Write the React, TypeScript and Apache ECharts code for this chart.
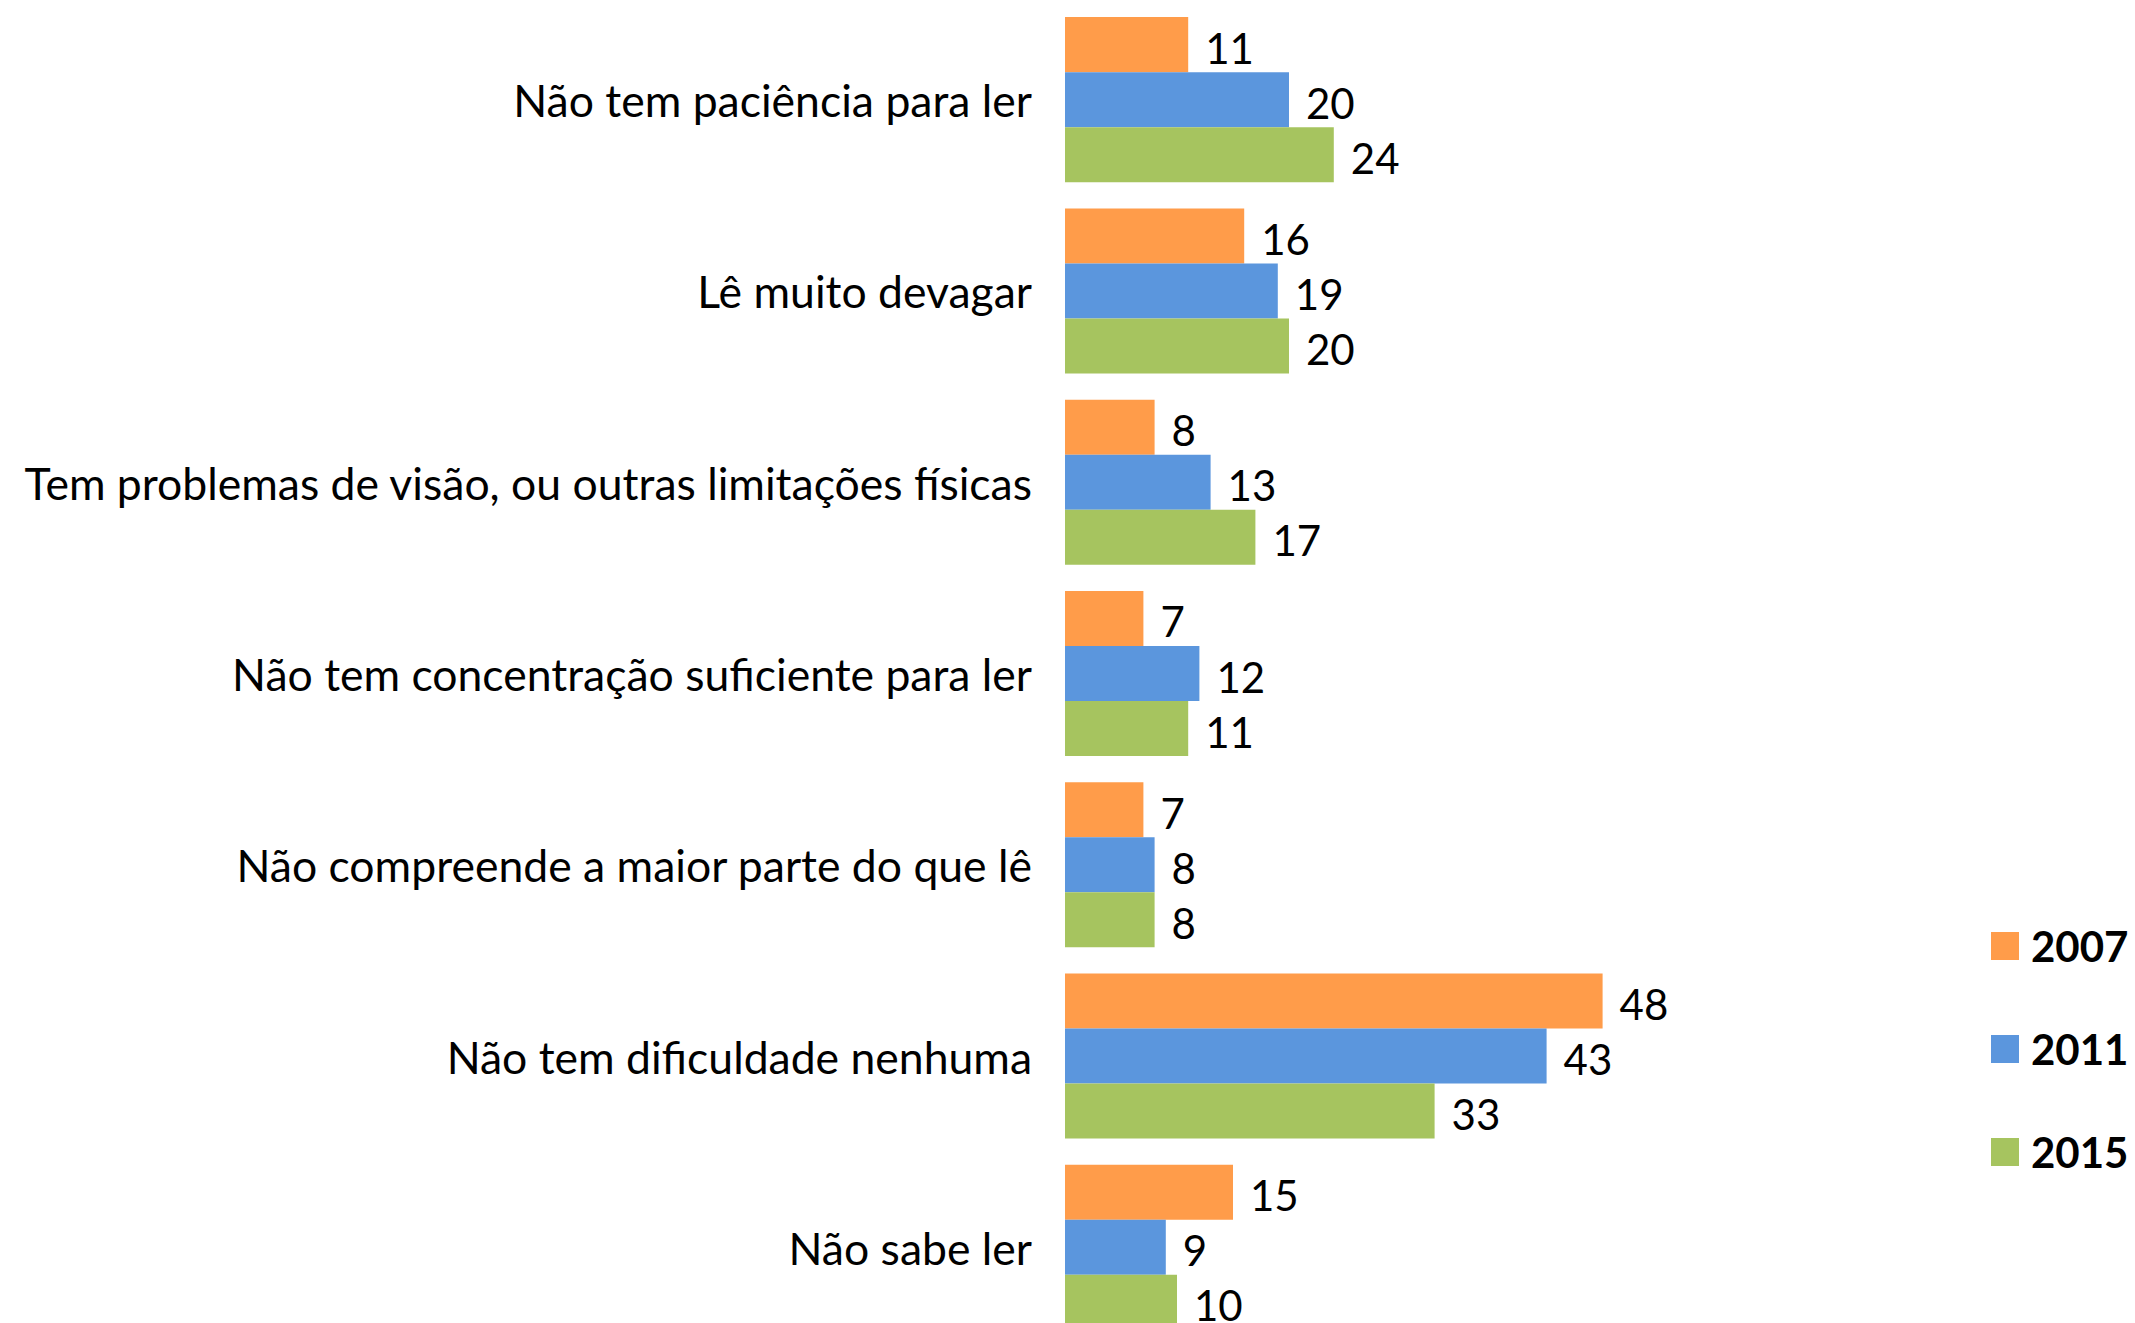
import React, { useEffect, useRef } from "react";
import * as echarts from "echarts";

const categories = [
  "Não tem paciência para ler",
  "Lê muito devagar",
  "Tem problemas de visão, ou outras limitações físicas",
  "Não tem concentração suficiente para ler",
  "Não compreende a maior parte do que lê",
  "Não tem dificuldade nenhuma",
  "Não sabe ler",
];
const years = ["2007", "2011", "2015"];
const values2007 = [11, 16, 8, 7, 7, 48, 15];
const values2011 = [20, 19, 13, 12, 8, 43, 9];
const values2015 = [24, 20, 17, 11, 8, 33, 10];
const colors = ["#FF9C4A", "#5B96DD", "#A6C45F"];

export default function App() {
  const ref = useRef<HTMLDivElement>(null);
  useEffect(() => {
    document.body.style.margin = "0";
    const chart = echarts.init(ref.current!, null, { renderer: "svg" });
    const seriesValues = [values2007, values2011, values2015];
    chart.setOption({
      animation: false,
      backgroundColor: "#ffffff",
      textStyle: { fontFamily: "Lato" },
      grid: { left: 1065, right: 398, top: 4, bottom: 0, containLabel: false },
      legend: {
        orient: "vertical",
        left: 1986,
        top: 920,
        itemWidth: 28,
        itemHeight: 28,
        itemGap: 61,
        icon: "rect",
        data: years,
        textStyle: {
          fontFamily: "Lato",
          fontWeight: "bold",
          fontSize: 42,
          lineHeight: 42,
          color: "#000",
          padding: [0, 0, 0, 7],
        },
      },
      xAxis: {
        type: "value",
        min: 0,
        max: 60,
        show: false,
      },
      yAxis: {
        type: "category",
        inverse: true,
        data: categories,
        axisLine: { show: false },
        axisTick: { show: false },
        splitLine: { show: false },
        axisLabel: {
          margin: 33,
          fontFamily: "Lato",
          fontSize: 44.5,
          color: "#000",
        },
      },
      series: years.map((y, i) => ({
        name: y,
        type: "bar",
        data: seriesValues[i],
        barGap: "0%",
        barCategoryGap: "13.7%",
        itemStyle: { color: colors[i] },
        label: {
          show: true,
          position: "right",
          distance: 17,
          offset: [0, 3],
          fontFamily: "Lato",
          fontSize: 42,
          color: "#000",
        },
      })),
    });
    return () => chart.dispose();
  }, []);
  return (
    <div style={{ position: "absolute", left: 0, top: 0, width: 2135, height: 1323, overflow: "hidden" }}>
      <div ref={ref} style={{ width: 2135, height: 1343 }} />
    </div>
  );
}
